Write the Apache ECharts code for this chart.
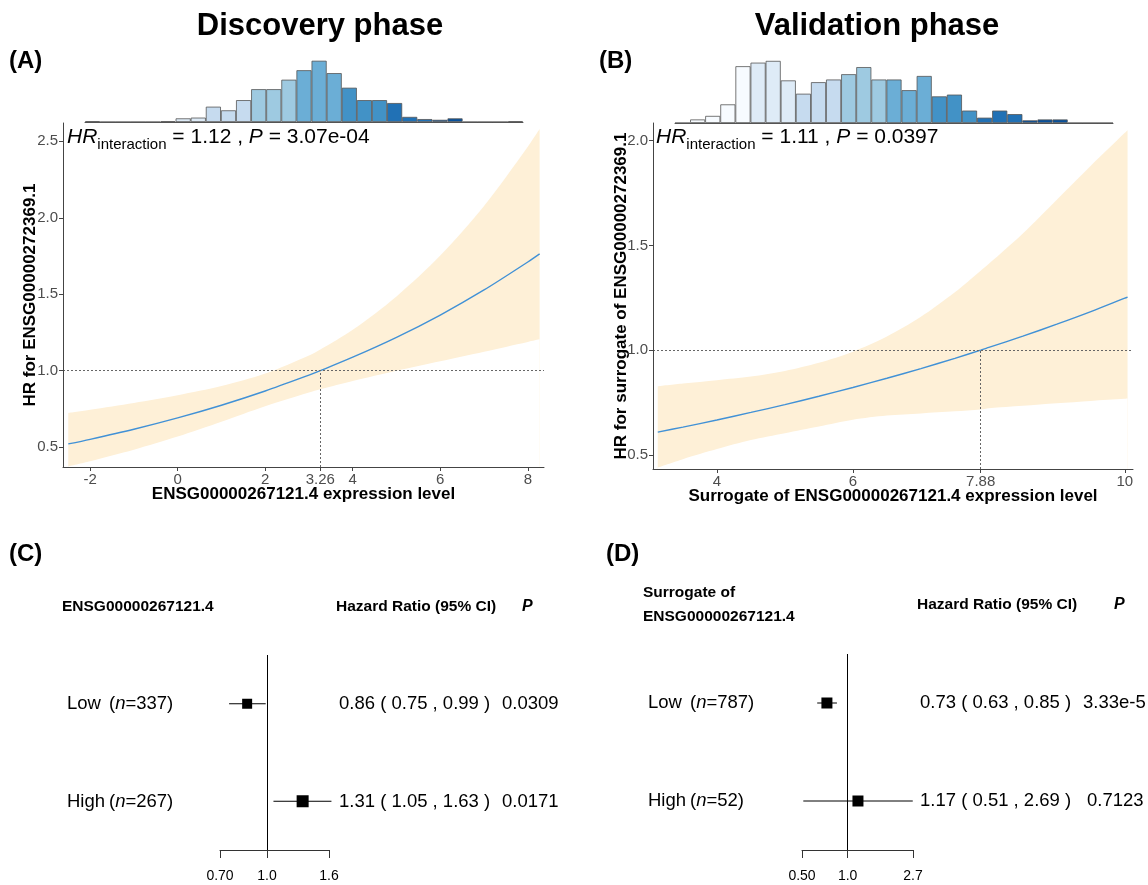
<!DOCTYPE html>
<html><head><meta charset="utf-8">
<script src="https://cdn.jsdelivr.net/npm/echarts@6/dist/echarts.min.js"></script>
<style>html,body{margin:0;padding:0;background:#fff}#c{width:1148px;height:885px}</style>
</head><body><div id="c"></div>
<script>
// ---------- Panel A (Discovery) ----------
const xA   = [-2.5, -2, -1, 0, 1, 2, 3, 3.26, 4, 5, 6, 7, 8, 8.27];
const hrA  = [0.521, 0.551, 0.617, 0.691, 0.774, 0.867, 0.971, 1.0, 1.088, 1.218, 1.364, 1.528, 1.711, 1.764];
const upA  = [0.724, 0.745, 0.789, 0.839, 0.899, 0.981, 1.100, 1.139, 1.268, 1.486, 1.753, 2.077, 2.465, 2.581];
const loA  = [0.374, 0.408, 0.483, 0.569, 0.666, 0.767, 0.857, 0.878, 0.932, 0.999, 1.061, 1.124, 1.188, 1.205];
const cutA = 3.26;
const xTicksA = [-2, 0, 2, 3.26, 4, 6, 8];
const yTicksA = [0.5, 1.0, 1.5, 2.0, 2.5];
const histA = [1,0,0,0,0,1,5,6,21,16,30,45,45,58,71,84,67,47,30,30,26,7,4,3,5,0,0,0,1];
const hrIntA = '1.12', pIntA = '3.07e-04';

// ---------- Panel B (Validation) ----------
const xB   = [3.13, 3.5, 4, 4.5, 5, 5.5, 6, 6.5, 7, 7.5, 7.88, 8, 8.5, 9, 9.5, 10, 10.04];
const hrB  = [0.609, 0.633, 0.667, 0.703, 0.740, 0.780, 0.822, 0.866, 0.912, 0.961, 1.0, 1.013, 1.067, 1.124, 1.184, 1.248, 1.253];
const upB  = [0.828, 0.841, 0.857, 0.874, 0.901, 0.940, 0.993, 1.065, 1.159, 1.276, 1.379, 1.412, 1.557, 1.718, 1.880, 2.037, 2.050];
const loB  = [0.440, 0.480, 0.528, 0.571, 0.604, 0.636, 0.668, 0.688, 0.698, 0.708, 0.717, 0.723, 0.735, 0.747, 0.758, 0.768, 0.769];
const cutB = 7.88;
const xTicksB = [4, 6, 7.88, 10];
const yTicksB = [0.5, 1.0, 1.5, 2.0];
const histB = [0,4,8,21,64,68,70,48,33,46,49,55,63,49,49,37,53,30,32,14,6,14,10,3,4,4,0,0,0];
const hrIntB = '1.11', pIntB = '0.0397';

// ---------- Forest C / D ----------
const groups = ['Low', 'High'];
const nC  = [337, 267];
const hrC = [0.86, 1.31];
const loC = [0.75, 1.05];
const hiC = [0.99, 1.63];
const pC  = ['0.0309', '0.0171'];
const ticksC = [0.70, 1.0, 1.6];
const tickLabC = ['0.70', '1.0', '1.6'];

const nD  = [787, 52];
const hrD = [0.73, 1.17];
const loD = [0.63, 0.51];
const hiD = [0.85, 2.69];
const pD  = ['3.33e-5', '0.7123'];
const ticksD = [0.50, 1.0, 2.7];
const tickLabD = ['0.50', '1.0', '2.7'];

// ---------- styles ----------
const FONT = '"Liberation Sans", Arial, Helvetica, sans-serif';
const BLUE = '#4191d6';
const BAND = '#fef0d7';
const blues = ['#f7fbff','#deebf7','#c6dbef','#9ecae1','#6baed6','#4292c6','#2171b5','#08519c','#08306b'];
function binColor(i){ if (i < 5) return blues[0]; return blues[Math.min(8, Math.floor((i - 5) / 3) + 1)]; }
const boxC = [10, 12], boxD = [11, 11];

const zip = (xs, ys) => xs.map((x, i) => [x, ys[i]]);

function mainX(grid, min, max, ticks, name){
  return {
    type: 'value', gridIndex: grid, min, max, name, nameLocation: 'middle', nameGap: 19, nameMoveOverlap: false, z: 10,
    nameTextStyle: {fontFamily: FONT, fontWeight: 'bold', fontSize: 17, color: '#000'},
    axisLine: {show: true, onZero: false, lineStyle: {color: '#444', width: 1}},
    axisTick: {show: true, length: 4, customValues: ticks, lineStyle: {color: '#444'}},
    axisLabel: {customValues: ticks, margin: 5, fontFamily: FONT, fontSize: 15, color: '#4d4d4d',
      formatter: v => String(+v.toFixed(2))},
    splitLine: {show: false}
  };
}
function mainY(grid, min, max, ticks, name, gap){
  return {
    type: 'value', gridIndex: grid, min, max, name, nameLocation: 'middle', nameGap: gap, nameMoveOverlap: false, z: 10,
    nameTextStyle: {fontFamily: FONT, fontWeight: 'bold', fontSize: 17, color: '#000'},
    axisLine: {show: true, onZero: false, lineStyle: {color: '#444', width: 1}},
    axisTick: {show: true, length: 4, customValues: ticks, lineStyle: {color: '#444'}},
    axisLabel: {customValues: ticks, margin: 5, fontFamily: FONT, fontSize: 15, color: '#4d4d4d',
      formatter: v => v.toFixed(1)},
    splitLine: {show: false}
  };
}
// confidence band: upper area in band colour, lower area masked in white
function bandSeries(axis, xs, lo, up){
  return [
    {type: 'line', xAxisIndex: axis, yAxisIndex: axis, data: zip(xs, up), smooth: 0.3,
     symbol: 'none', lineStyle: {width: 0, opacity: 0}, areaStyle: {color: BAND, opacity: 1, origin: 'start'}, silent: true, z: 1},
    {type: 'line', xAxisIndex: axis, yAxisIndex: axis, data: zip(xs, lo), smooth: 0.3,
     symbol: 'none', lineStyle: {width: 0, opacity: 0}, areaStyle: {color: '#fff', opacity: 1, origin: 'start'}, silent: true, z: 2}
  ];
}
function curveSeries(axis, xs, hr, cut, ymin){
  return {type: 'line', xAxisIndex: axis, yAxisIndex: axis, data: zip(xs, hr), smooth: 0.3,
    symbol: 'none', lineStyle: {color: BLUE, width: 1.4}, z: 4,
    markLine: {symbol: 'none', silent: true, label: {show: false},
      lineStyle: {color: '#666', type: [2, 2], width: 1},
      data: [{yAxis: 1}, [{coord: [cut, ymin]}, {coord: [cut, 1]}]]}};
}
function histSeries(axis, counts){
  return {type: 'bar', xAxisIndex: axis, yAxisIndex: axis, barCategoryGap: '0%',
    data: counts.map((v, i) => ({value: v, itemStyle: {color: binColor(i)}})),
    itemStyle: {borderColor: '#555', borderWidth: 0.8}, silent: true};
}
function forestX(grid, ticks, labs){
  const lt = ticks.map(Math.log);
  return {type: 'value', gridIndex: grid, min: lt[0], max: lt[lt.length - 1],
    axisLine: {show: true, onZero: false, lineStyle: {color: '#333', width: 1}},
    axisTick: {show: true, length: 8, customValues: lt, lineStyle: {color: '#333'}},
    axisLabel: {customValues: lt, margin: 19, fontFamily: FONT, fontSize: 14, color: '#000',
      formatter: v => { let k = 0, b = Infinity; lt.forEach((t, i) => { if (Math.abs(t - v) < b) { b = Math.abs(t - v); k = i; } }); return labs[k]; }},
    splitLine: {show: false}};
}
function forestSeries(axis, hr, lo, hi, sizes){
  return {type: 'custom', xAxisIndex: axis, yAxisIndex: axis, clip: false,
    data: hr.map((h, i) => [Math.log(h), Math.log(lo[i]), Math.log(hi[i]), i + 1]),
    renderItem: (params, api) => {
      const row = api.value(3);
      const a = api.coord([api.value(1), row]);
      const b = api.coord([api.value(2), row]);
      const c = api.coord([api.value(0), row]);
      const s = sizes[params.dataIndex];
      return {type: 'group', children: [
        {type: 'line', shape: {x1: a[0], y1: a[1], x2: b[0], y2: b[1]}, style: {stroke: '#000', lineWidth: 1}},
        {type: 'rect', shape: {x: c[0] - s / 2, y: c[1] - s / 2, width: s, height: s}, style: {fill: '#000'}}
      ]};
    },
    markLine: {symbol: 'none', silent: true, label: {show: false},
      lineStyle: {color: '#000', type: 'solid', width: 1}, data: [{xAxis: 0}]}};
}

// ---------- text helpers ----------
function T(x, y, text, o){
  return {type: 'text', x, y, z: 100, silent: true, style: Object.assign({text, fill: '#000', fontFamily: FONT,
    fontSize: 15.5, align: 'left', verticalAlign: 'middle'}, o || {})};
}
function hrLabel(x, y, hrv, pv){
  return {type: 'text', x, y, z: 100, silent: true, style: {
    text: '{i|HR}{s|interaction}{n| = ' + hrv + ' , }{i|P}{n| = ' + pv + '}',
    verticalAlign: 'middle', align: 'left',
    rich: {
      i: {fontFamily: FONT, fontSize: 21, fontStyle: 'italic', lineHeight: 30, fill: '#000'},
      s: {fontFamily: FONT, fontSize: 15, lineHeight: 21, verticalAlign: 'bottom', fill: '#000'},
      n: {fontFamily: FONT, fontSize: 21, lineHeight: 30, fill: '#000'}
    }}};
}
function fmt(v){ return v.toFixed(2); }
const graphics = [
  T(320, 26, 'Discovery phase', {fontSize: 31, fontWeight: 'bold', align: 'center'}),
  T(877, 26, 'Validation phase', {fontSize: 31, fontWeight: 'bold', align: 'center'}),
  T(9, 61, '(A)', {fontSize: 24, fontWeight: 'bold'}),
  T(599, 61, '(B)', {fontSize: 24, fontWeight: 'bold'}),
  T(9, 554, '(C)', {fontSize: 24, fontWeight: 'bold'}),
  T(606, 554, '(D)', {fontSize: 24, fontWeight: 'bold'}),
  hrLabel(67, 137, hrIntA, pIntA),
  hrLabel(656, 137, hrIntB, pIntB),
  // forest C headers
  T(62, 607, 'ENSG00000267121.4', {fontWeight: 'bold'}),
  T(336, 607, 'Hazard Ratio (95% CI)', {fontWeight: 'bold'}),
  T(522, 607, 'P', {fontWeight: 'bold', fontStyle: 'italic', fontSize: 16}),
  // forest D headers
  T(643, 593, 'Surrogate of', {fontWeight: 'bold'}),
  T(643, 617, 'ENSG00000267121.4', {fontWeight: 'bold'}),
  T(917, 605, 'Hazard Ratio (95% CI)', {fontWeight: 'bold'}),
  T(1114, 605, 'P', {fontWeight: 'bold', fontStyle: 'italic', fontSize: 16})
];
const rowYC = [704, 802], rowYD = [703, 801];
groups.forEach((g, i) => {
  const rich = {n: {fontFamily: FONT, fontSize: 18.5, fill: '#000'}, i: {fontFamily: FONT, fontSize: 18.5, fontStyle: 'italic', fill: '#000'}};
  graphics.push(T(67, rowYC[i], g, {fontSize: 18.5}));
  graphics.push({type: 'text', x: 109, y: rowYC[i], z: 100, silent: true, style: {text: '{n|(}{i|n}{n|=' + nC[i] + ')}', rich, verticalAlign: 'middle'}});
  graphics.push(T(339, rowYC[i], fmt(hrC[i]) + ' ( ' + fmt(loC[i]) + ' , ' + fmt(hiC[i]) + ' )', {fontSize: 18.5}));
  graphics.push(T(502, rowYC[i], pC[i], {fontSize: 18.5}));
  graphics.push(T(648, rowYD[i], g, {fontSize: 18.5}));
  graphics.push({type: 'text', x: 690, y: rowYD[i], z: 100, silent: true, style: {text: '{n|(}{i|n}{n|=' + nD[i] + ')}', rich, verticalAlign: 'middle'}});
  graphics.push(T(920, rowYD[i], fmt(hrD[i]) + ' ( ' + fmt(loD[i]) + ' , ' + fmt(hiD[i]) + ' )', {fontSize: 18.5}));
  graphics.push(T(i === 0 ? 1083 : 1087, rowYD[i], pD[i], {fontSize: 18.5}));
});

const yMinA = 0.37, yMaxA = 2.62, yMinB = 0.433, yMaxB = 2.084;

const option = {
  animation: false,
  backgroundColor: '#fff',
  grid: [
    {left: 63, top: 123, width: 481, height: 344},
    {left: 653, top: 123, width: 480, height: 346},
    {left: 85, top: 60, width: 438, height: 62},
    {left: 675, top: 60, width: 438, height: 63},
    {left: 220, top: 655, width: 109, height: 195},
    {left: 802, top: 654, width: 111, height: 196}
  ],
  xAxis: [
    mainX(0, -2.62, 8.37, xTicksA, 'ENSG00000267121.4 expression level'),
    mainX(1, 3.06, 10.12, xTicksB, 'Surrogate of ENSG00000267121.4 expression level'),
    {type: 'category', gridIndex: 2, data: histA.map((_, i) => 'bin' + (i + 1)),
     axisLine: {show: true, lineStyle: {color: '#555', width: 1}}, axisTick: {show: false}, axisLabel: {show: false}},
    {type: 'category', gridIndex: 3, data: histB.map((_, i) => 'bin' + (i + 1)),
     axisLine: {show: true, lineStyle: {color: '#555', width: 1}}, axisTick: {show: false}, axisLabel: {show: false}},
    forestX(4, ticksC, tickLabC),
    forestX(5, ticksD, tickLabD)
  ],
  yAxis: [
    mainY(0, yMinA, yMaxA, yTicksA, 'HR for ENSG00000272369.1', 24),
    mainY(1, yMinB, yMaxB, yTicksB, 'HR for surrogate of ENSG00000272369.1', 23),
    {type: 'value', gridIndex: 2, min: 0, max: 85, show: false},
    {type: 'value', gridIndex: 3, min: 0, max: 71, show: false},
    {type: 'value', gridIndex: 4, min: 0.5, max: 2.5, inverse: true, show: false},
    {type: 'value', gridIndex: 5, min: 0.5, max: 2.5, inverse: true, show: false}
  ],
  series: [
    ...bandSeries(0, xA, loA, upA),
    curveSeries(0, xA, hrA, cutA, yMinA),
    ...bandSeries(1, xB, loB, upB),
    curveSeries(1, xB, hrB, cutB, yMinB),
    histSeries(2, histA),
    histSeries(3, histB),
    forestSeries(4, hrC, loC, hiC, boxC),
    forestSeries(5, hrD, loD, hiD, boxD)
  ],
  graphic: graphics
};
const chart = echarts.init(document.getElementById('c'));
chart.setOption(option);
</script></body></html>
